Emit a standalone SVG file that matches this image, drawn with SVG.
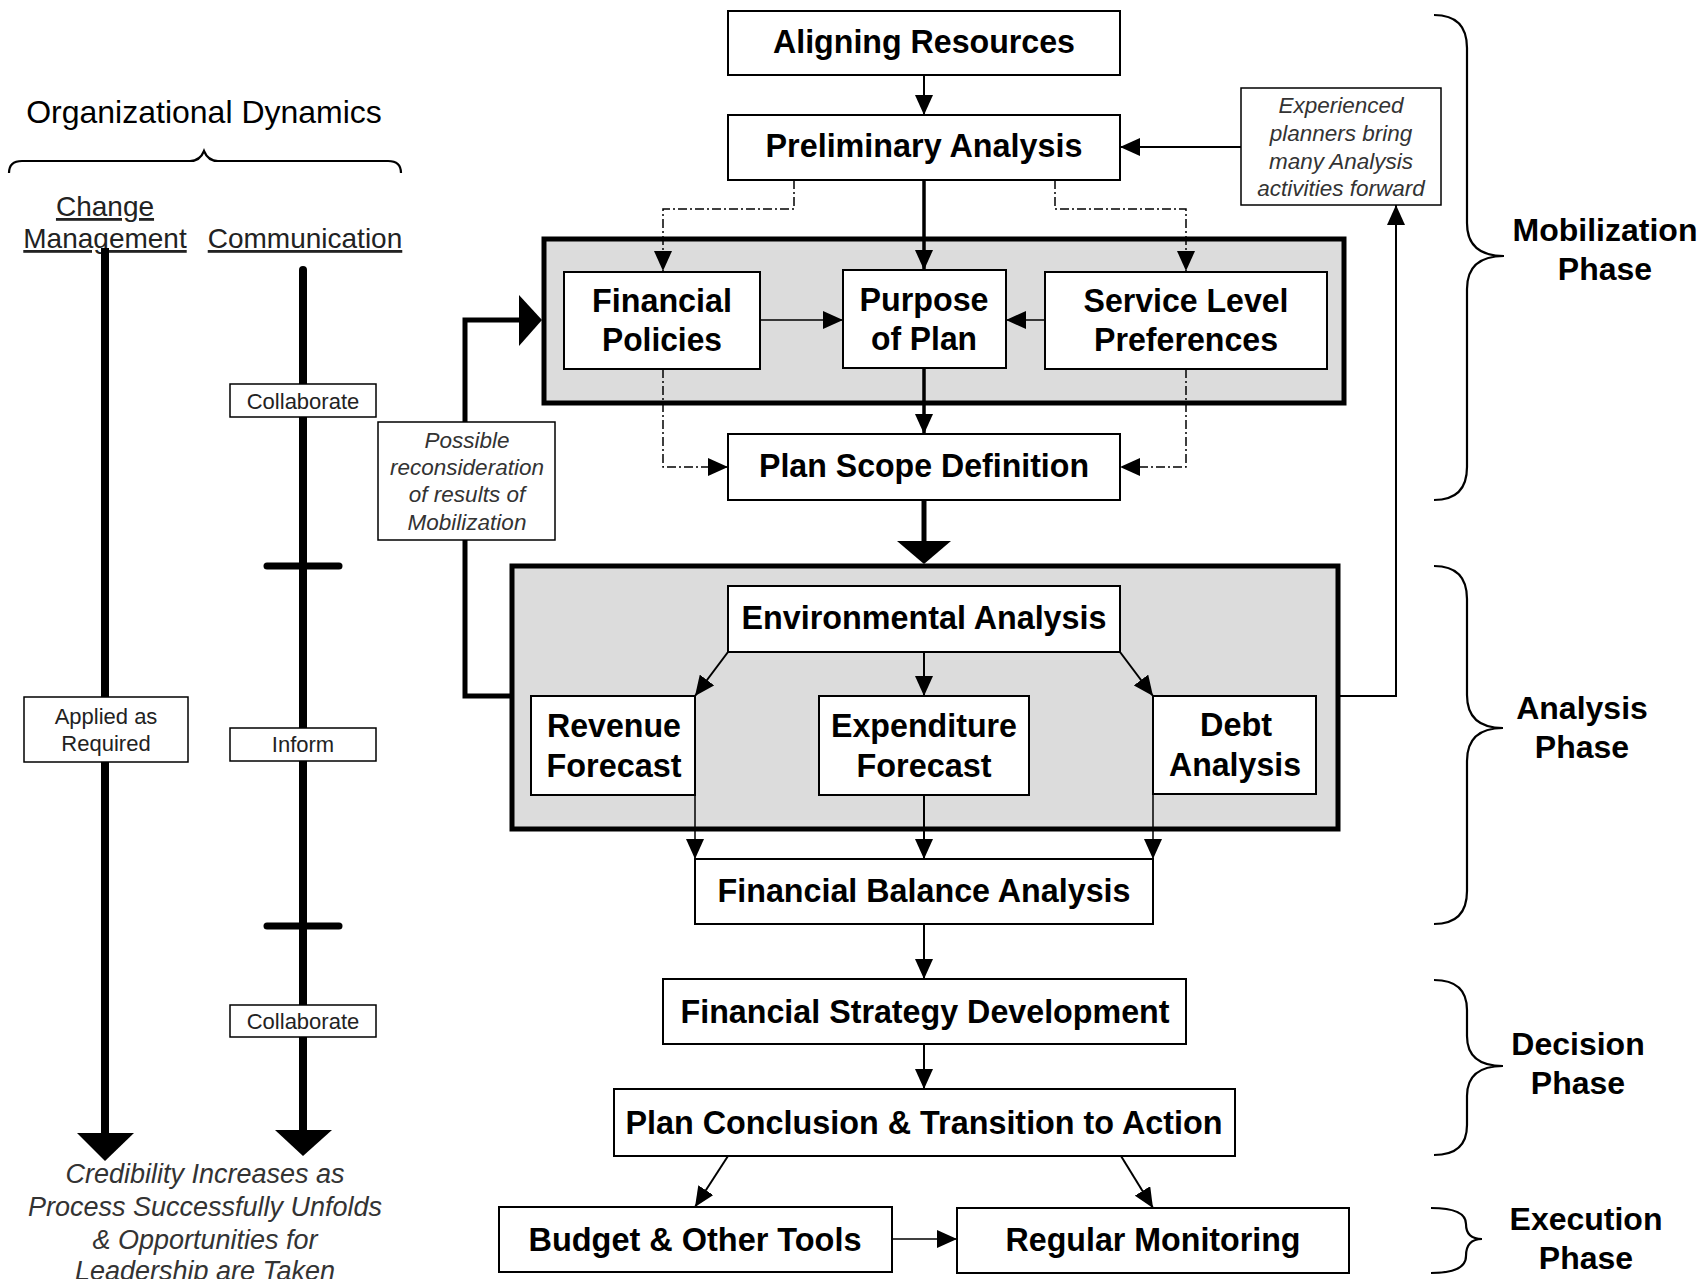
<svg xmlns="http://www.w3.org/2000/svg" width="1703" height="1279" viewBox="0 0 1703 1279">
<style>
text{font-family:"Liberation Sans",Arial,Helvetica,sans-serif;fill:#000}
.b{font-weight:bold;font-size:34px;text-anchor:middle}
.ph{font-weight:bold;font-size:32px;text-anchor:middle}
.sm{font-size:22px;text-anchor:middle;fill:#222}
.it{font-size:22.5px;font-style:italic;text-anchor:middle;fill:#333}
.cr{font-size:27px;font-style:italic;text-anchor:middle;fill:#333}
.hd{font-size:28px;text-anchor:middle;text-decoration:underline;fill:#222}
.box{fill:#fff;stroke:#000;stroke-width:2}
.sbox{fill:#fff;stroke:#000;stroke-width:1.5}
.grp{fill:#dcdcdc;stroke:#000;stroke-width:5}
.ln{fill:none;stroke:#000;stroke-width:2}
.thin{fill:none;stroke:#000;stroke-width:1.5}
.dash{fill:none;stroke:#000;stroke-width:1.5;stroke-dasharray:9 3 2 3}
.brace{fill:none;stroke:#000;stroke-width:2.2}
</style>
<defs>
<marker id="arr" viewBox="0 0 20 18" refX="20" refY="9" markerWidth="20" markerHeight="18" markerUnits="userSpaceOnUse" orient="auto">
<path d="M0,0 L20,9 L0,18 z" fill="#000"/>
</marker>
</defs>

<rect width="1703" height="1279" fill="#fff"/>

<!-- group containers -->
<g id="mobilization-group"><rect class="grp" x="544" y="239" width="800" height="164"/></g>
<g id="analysis-group"><rect class="grp" x="512" y="566" width="826" height="263"/></g>

<!-- connectors -->
<g id="connectors">
<line class="ln" x1="924" y1="75" x2="924" y2="115" marker-end="url(#arr)"/>
<line x1="924" y1="180" x2="924" y2="270" stroke="#000" stroke-width="3.5" marker-end="url(#arr)"/>
<line x1="924" y1="368" x2="924" y2="434" stroke="#000" stroke-width="3.5" marker-end="url(#arr)"/>
<line x1="924" y1="500" x2="924" y2="542" stroke="#000" stroke-width="5"/>
<polygon points="897,541 951,541 924,564" fill="#000"/>
<line class="thin" x1="760" y1="320" x2="843" y2="320" marker-end="url(#arr)"/>
<line class="thin" x1="1045" y1="320" x2="1006" y2="320" marker-end="url(#arr)"/>
<path class="dash" d="M794,180 V209 H663 V271" marker-end="url(#arr)"/>
<path class="dash" d="M1055,180 V209 H1186 V271" marker-end="url(#arr)"/>
<path class="dash" d="M663,369 V467 H728" marker-end="url(#arr)"/>
<path class="dash" d="M1186,369 V467 H1120" marker-end="url(#arr)"/>
<line class="ln" x1="1241" y1="147" x2="1120" y2="147" marker-end="url(#arr)"/>
<path class="ln" d="M1338,696 H1396 V205" marker-end="url(#arr)"/>
<path d="M512,696 H465 V320 H520" fill="none" stroke="#000" stroke-width="5"/>
<polygon points="519,295 542,320 519,346" fill="#000"/>
<line class="ln" x1="728" y1="652" x2="695" y2="696" marker-end="url(#arr)"/>
<line class="ln" x1="924" y1="652" x2="924" y2="696" marker-end="url(#arr)"/>
<line class="ln" x1="1120" y1="652" x2="1153" y2="696" marker-end="url(#arr)"/>
<line class="thin" x1="695" y1="795" x2="695" y2="859" marker-end="url(#arr)"/>
<line class="ln" x1="924" y1="795" x2="924" y2="859" marker-end="url(#arr)"/>
<line class="thin" x1="1153" y1="794" x2="1153" y2="859" marker-end="url(#arr)"/>
<line class="ln" x1="924" y1="924" x2="924" y2="979" marker-end="url(#arr)"/>
<line class="ln" x1="924" y1="1044" x2="924" y2="1089" marker-end="url(#arr)"/>
<line class="ln" x1="728" y1="1156" x2="695" y2="1207" marker-end="url(#arr)"/>
<line class="ln" x1="1121" y1="1156" x2="1153" y2="1208" marker-end="url(#arr)"/>
<line class="thin" x1="892" y1="1239" x2="957" y2="1239" marker-end="url(#arr)"/>
</g>

<!-- process nodes -->
<g id="aligning-resources"><rect class="box" x="728" y="11" width="392" height="64"/><text class="b" x="924" y="53" textLength="302" lengthAdjust="spacingAndGlyphs">Aligning Resources</text></g>
<g id="preliminary-analysis"><rect class="box" x="728" y="115" width="392" height="65"/><text class="b" x="924" y="157" textLength="317" lengthAdjust="spacingAndGlyphs">Preliminary Analysis</text></g>
<g id="experienced-note"><rect class="sbox" x="1241" y="88" width="200" height="117"/>
<text class="it" x="1341" y="113">Experienced</text><text class="it" x="1341" y="141">planners bring</text><text class="it" x="1341" y="169">many Analysis</text><text class="it" x="1341" y="196">activities forward</text></g>
<g id="financial-policies"><rect class="box" x="564" y="272" width="196" height="97"/><text class="b" x="662" y="312" textLength="140" lengthAdjust="spacingAndGlyphs">Financial</text><text class="b" x="662" y="351" textLength="120" lengthAdjust="spacingAndGlyphs">Policies</text></g>
<g id="purpose-of-plan"><rect class="box" x="843" y="270" width="163" height="98"/><text class="b" x="924" y="311" textLength="129" lengthAdjust="spacingAndGlyphs">Purpose</text><text class="b" x="924" y="350" textLength="106" lengthAdjust="spacingAndGlyphs">of Plan</text></g>
<g id="service-level-preferences"><rect class="box" x="1045" y="272" width="282" height="97"/><text class="b" x="1186" y="312" textLength="205" lengthAdjust="spacingAndGlyphs">Service Level</text><text class="b" x="1186" y="351" textLength="184" lengthAdjust="spacingAndGlyphs">Preferences</text></g>
<g id="plan-scope-definition"><rect class="box" x="728" y="434" width="392" height="66"/><text class="b" x="924" y="477" textLength="330" lengthAdjust="spacingAndGlyphs">Plan Scope Definition</text></g>
<g id="reconsideration-note"><rect class="sbox" x="378" y="422" width="177" height="118"/>
<text class="it" x="467" y="448">Possible</text><text class="it" x="467" y="475">reconsideration</text><text class="it" x="467" y="502">of results of</text><text class="it" x="467" y="530">Mobilization</text></g>
<g id="environmental-analysis"><rect class="box" x="728" y="586" width="392" height="66"/><text class="b" x="924" y="629" textLength="365" lengthAdjust="spacingAndGlyphs">Environmental Analysis</text></g>
<g id="revenue-forecast"><rect class="box" x="531" y="696" width="164" height="99"/><text class="b" x="614" y="737" textLength="134" lengthAdjust="spacingAndGlyphs">Revenue</text><text class="b" x="614" y="777" textLength="135" lengthAdjust="spacingAndGlyphs">Forecast</text></g>
<g id="expenditure-forecast"><rect class="box" x="819" y="696" width="210" height="99"/><text class="b" x="924" y="737" textLength="186" lengthAdjust="spacingAndGlyphs">Expenditure</text><text class="b" x="924" y="777" textLength="135" lengthAdjust="spacingAndGlyphs">Forecast</text></g>
<g id="debt-analysis"><rect class="box" x="1153" y="696" width="163" height="98"/><text class="b" x="1236" y="736" textLength="72" lengthAdjust="spacingAndGlyphs">Debt</text><text class="b" x="1235" y="776" textLength="132" lengthAdjust="spacingAndGlyphs">Analysis</text></g>
<g id="financial-balance-analysis"><rect class="box" x="695" y="859" width="458" height="65"/><text class="b" x="924" y="902" textLength="413" lengthAdjust="spacingAndGlyphs">Financial Balance Analysis</text></g>
<g id="financial-strategy-development"><rect class="box" x="663" y="979" width="523" height="65"/><text class="b" x="925" y="1023" textLength="489" lengthAdjust="spacingAndGlyphs">Financial Strategy Development</text></g>
<g id="plan-conclusion"><rect class="box" x="614" y="1089" width="621" height="67"/><text class="b" x="924" y="1134" textLength="597" lengthAdjust="spacingAndGlyphs">Plan Conclusion &amp; Transition to Action</text></g>
<g id="budget-other-tools"><rect class="box" x="499" y="1207" width="393" height="65"/><text class="b" x="695" y="1251" textLength="333" lengthAdjust="spacingAndGlyphs">Budget &amp; Other Tools</text></g>
<g id="regular-monitoring"><rect class="box" x="957" y="1208" width="392" height="65"/><text class="b" x="1153" y="1251" textLength="295" lengthAdjust="spacingAndGlyphs">Regular Monitoring</text></g>

<!-- organizational dynamics -->
<g id="organizational-dynamics">
<text x="204" y="123" font-size="32" text-anchor="middle" fill="#222">Organizational Dynamics</text>
<path class="brace" d="M9,173 Q9,161 22,161 L190,161 Q200,161 204,151 Q208,161 218,161 L388,161 Q401,161 401,173"/>
</g>
<g id="change-management">
<text class="hd" x="105" y="216">Change</text>
<text class="hd" x="105" y="248">Management</text>
<line x1="105" y1="248" x2="105" y2="1135" stroke="#000" stroke-width="8"/>
<polygon points="77,1133 134,1133 105,1161" fill="#000"/>
</g>
<g id="communication">
<text class="hd" x="305" y="248">Communication</text>
<line x1="303" y1="270" x2="303" y2="1132" stroke="#000" stroke-width="8" stroke-linecap="round"/>
<polygon points="275,1130 332,1130 303,1156" fill="#000"/>
<line x1="267" y1="566" x2="339" y2="566" stroke="#000" stroke-width="7" stroke-linecap="round"/>
<line x1="267" y1="926" x2="339" y2="926" stroke="#000" stroke-width="7" stroke-linecap="round"/>
</g>
<g id="applied-as-required"><rect class="sbox" x="24" y="697" width="164" height="65"/><text class="sm" x="106" y="724">Applied as</text><text class="sm" x="106" y="751">Required</text></g>
<g id="collaborate-1"><rect class="sbox" x="230" y="384" width="146" height="33"/><text class="sm" x="303" y="409">Collaborate</text></g>
<g id="inform"><rect class="sbox" x="230" y="728" width="146" height="33"/><text class="sm" x="303" y="752">Inform</text></g>
<g id="collaborate-2"><rect class="sbox" x="230" y="1005" width="146" height="32"/><text class="sm" x="303" y="1029">Collaborate</text></g>
<g id="credibility-note">
<text class="cr" x="205" y="1183">Credibility Increases as</text>
<text class="cr" x="205" y="1216">Process Successfully Unfolds</text>
<text class="cr" x="205" y="1249">&amp; Opportunities for</text>
<text class="cr" x="205" y="1280">Leadership are Taken</text>
</g>

<!-- phases -->
<g id="mobilization-phase">
<path class="brace" d="M1434,15 Q1467,15 1467,48 L1467,223 Q1467,256 1504,256 Q1467,256 1467,289 L1467,467 Q1467,500 1434,500"/>
<text class="ph" x="1605" y="241">Mobilization</text><text class="ph" x="1605" y="280">Phase</text>
</g>
<g id="analysis-phase">
<path class="brace" d="M1434,566 Q1467,566 1467,599 L1467,695 Q1467,728 1503,728 Q1467,728 1467,761 L1467,891 Q1467,924 1434,924"/>
<text class="ph" x="1582" y="719">Analysis</text><text class="ph" x="1582" y="758">Phase</text>
</g>
<g id="decision-phase">
<path class="brace" d="M1434,980 Q1467,980 1467,1010 L1467,1036 Q1467,1066 1503,1066 Q1467,1066 1467,1096 L1467,1125 Q1467,1155 1434,1155"/>
<text class="ph" x="1578" y="1055">Decision</text><text class="ph" x="1578" y="1094">Phase</text>
</g>
<g id="execution-phase">
<path class="brace" d="M1431,1208 Q1466,1208 1466,1224 Q1466,1239 1482,1239 Q1466,1239 1466,1256 Q1466,1273 1431,1273"/>
<text class="ph" x="1586" y="1230">Execution</text><text class="ph" x="1586" y="1269">Phase</text>
</g>
</svg>
